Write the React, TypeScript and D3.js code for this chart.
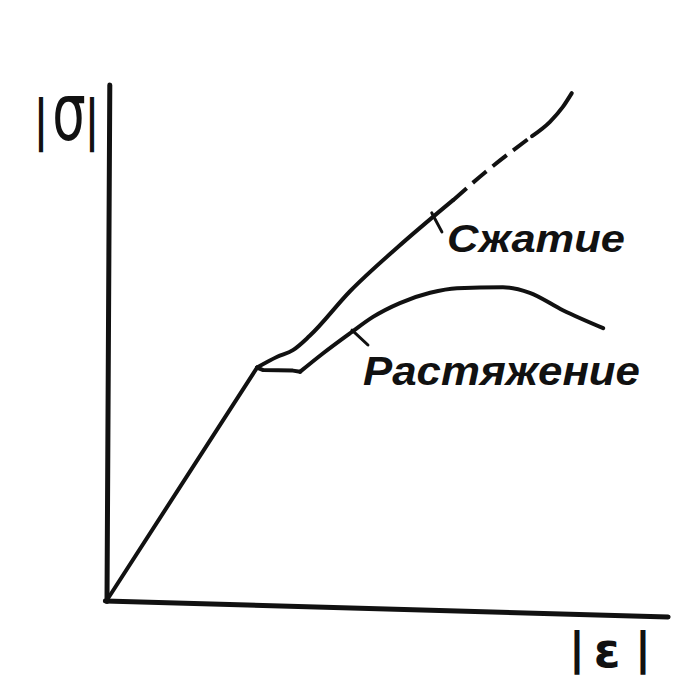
import React from "react";
import * as d3 from "d3";

// Stress–strain diagram of a material in tension and compression (|ε| vs |σ|), arbitrary units.
type Pt = [number, number];

const elastic: Pt[] = [[0, 0], [26.8, 45.4]];

// Tension: yield plateau, then hardening with a maximum and a falling branch.
const tensionPlateau: Pt[] = [[26.8, 45.4], [27.9, 44.9], [33.2, 44.8], [34.5, 44.6]];
const tensionHardening: Pt[] = [
  [34.5, 44.6], [38.6, 48.2], [43.4, 52.1], [47.5, 55.3], [52.3, 58.0],
  [57.7, 60.0], [62.5, 60.9], [70.7, 61.1], [75.5, 60.0], [81.4, 56.6], [88.6, 53.1],
];

// Compression: solid part, extrapolated (dashed) part, solid end.
const compressionSolid: Pt[] = [
  [26.8, 45.4], [30.4, 47.5], [33.2, 48.8], [36.2, 51.6], [43.4, 60.3],
  [51.8, 68.8], [61.8, 78.1],
];
const compressionDashed: Pt[] = [[61.8, 78.1], [67.5, 83.5], [75.9, 90.6]];
const compressionEnd: Pt[] = [[75.9, 90.6], [79.1, 93.4], [81.4, 96.3], [83.0, 99.0]];

// Axis endpoints (the drawn axes lean slightly)
const xAxisLine: Pt[] = [[-0.3, -0.2], [100.2, -3.3]];
const yAxisLine: Pt[] = [[0, -0.3], [0.5, 100.6]];

// Leader strokes from the curves to their names
const compressionLeader: Pt[] = [[58.0, 75.6], [59.8, 71.9]];
const tensionLeader: Pt[] = [[43.75, 52.7], [46.6, 49.8]];

const compressionName = "Сжатие";
const tensionName = "Растяжение";

const W = 697;
const H = 681;

export default function App() {
  const x = d3.scaleLinear().domain([0, 100]).range([107, 667]);
  const y = d3.scaleLinear().domain([0, 100]).range([600, 88]);

  const linear = d3.line<Pt>().x((d) => x(d[0])).y((d) => y(d[1]));
  const smooth = d3
    .line<Pt>()
    .x((d) => x(d[0]))
    .y((d) => y(d[1]))
    .curve(d3.curveMonotoneX);

  const ink = "#111";
  const font = "'DejaVu Sans', sans-serif";
  const labelFont = "'Liberation Sans', Arial, sans-serif";
  const sx = 0.66; // horizontal squeeze of the |σ| label

  return (
    <svg
      width={W}
      height={H}
      viewBox={`0 0 ${W} ${H}`}
      style={{ position: "absolute", left: 0, top: 0, background: "#fff" }}
    >
      <rect width={W} height={H} fill="#fff" />

      {/* axes */}
      <path d={linear(xAxisLine) ?? ""} stroke={ink} strokeWidth={5} fill="none" strokeLinecap="round" />
      <path d={linear(yAxisLine) ?? ""} stroke={ink} strokeWidth={5} fill="none" strokeLinecap="round" />

      {/* curves */}
      <g fill="none" stroke={ink} strokeWidth={4} strokeLinecap="round" strokeLinejoin="round">
        <path d={linear(elastic) ?? ""} />
        <path d={linear(tensionPlateau) ?? ""} />
        <path d={smooth(tensionHardening) ?? ""} />
        <path d={smooth(compressionSolid) ?? ""} />
        <path d={smooth(compressionDashed) ?? ""} strokeDasharray="18 8" strokeLinecap="butt" />
        <path d={smooth(compressionEnd) ?? ""} />
        <path d={linear(compressionLeader) ?? ""} strokeWidth={3} />
        <path d={linear(tensionLeader) ?? ""} strokeWidth={3} />
      </g>

      {/* curve names */}
      <text
        x={447}
        y={252}
        fontFamily={labelFont}
        fontStyle="italic"
        fontWeight="bold"
        fontSize={38}
        textLength={178}
        lengthAdjust="spacingAndGlyphs"
        fill={ink}
      >
        {compressionName}
      </text>
      <text
        x={363}
        y={385}
        fontFamily={labelFont}
        fontStyle="italic"
        fontWeight="bold"
        fontSize={40}
        textLength={277}
        lengthAdjust="spacingAndGlyphs"
        fill={ink}
      >
        {tensionName}
      </text>

      {/* axis names */}
      <g fontFamily={font} fill={ink}>
        <text transform={`scale(${sx},1)`}>
          <tspan x={41 / sx} y={139} fontSize={56} fontWeight="bold" textAnchor="middle">|</tspan>
          <tspan x={69 / sx} y={140} fontSize={80} textAnchor="middle">σ</tspan>
          <tspan x={92 / sx} y={139} fontSize={56} fontWeight="bold" textAnchor="middle">|</tspan>
        </text>

        <text>
          <tspan x={577} y={664} fontSize={45} fontWeight="bold" textAnchor="middle">|</tspan>
          <tspan x={607} y={667} fontSize={48} fontWeight="bold" textAnchor="middle">ε</tspan>
          <tspan x={643} y={664} fontSize={45} fontWeight="bold" textAnchor="middle">|</tspan>
        </text>
      </g>
    </svg>
  );
}
